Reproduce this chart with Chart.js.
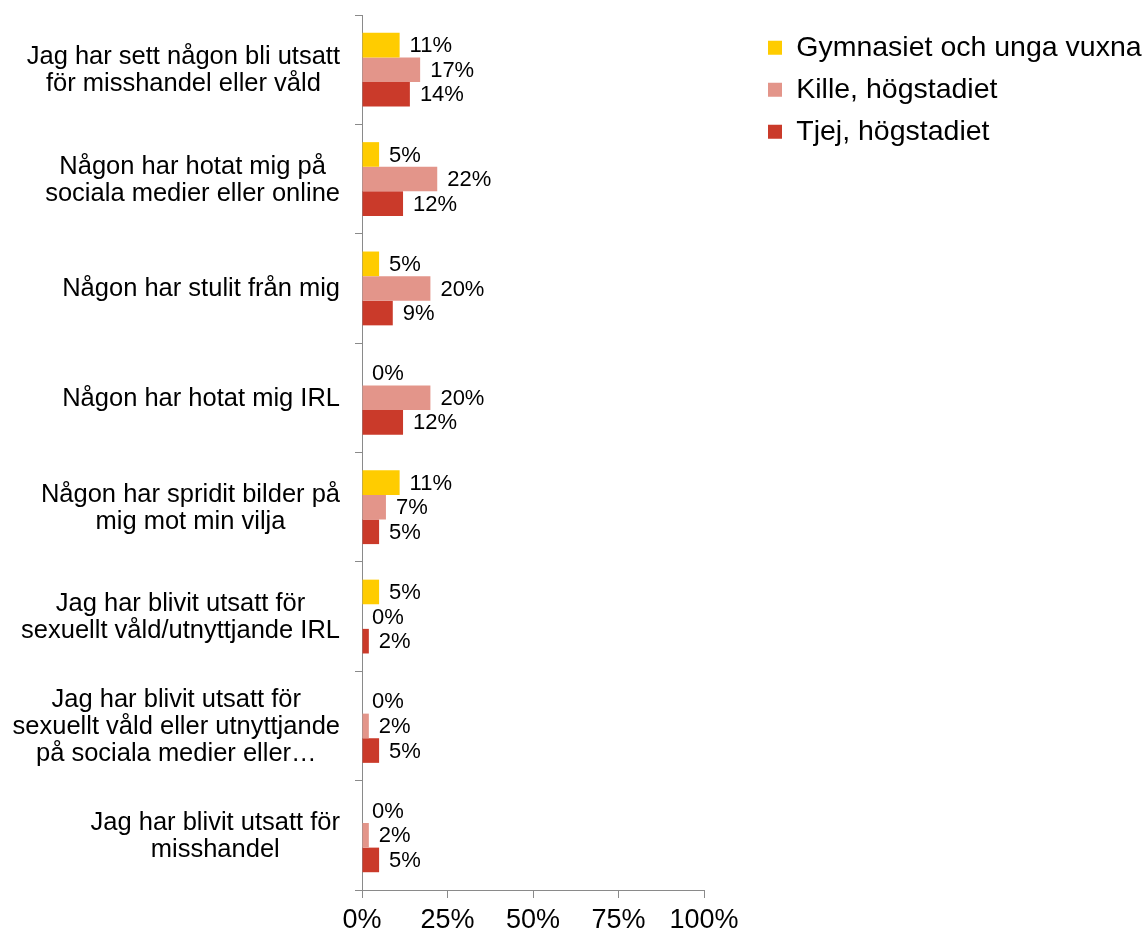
<!DOCTYPE html>
<html>
<head>
<meta charset="utf-8">
<script src="https://cdn.jsdelivr.net/npm/chart.js@4/dist/chart.umd.min.js"></script>
<style>
html,body{margin:0;padding:0;background:#fff;}
#wrap{width:1144px;height:937px;}
</style>
</head>
<body>
<div id="wrap"><canvas id="c" width="1144" height="937"></canvas></div>
<script>
// ---- data ----
const categories = [
  ['Jag har sett någon bli utsatt', 'för misshandel eller våld'],
  ['Någon har hotat mig på', 'sociala medier eller online'],
  ['Någon har stulit från mig'],
  ['Någon har hotat mig IRL'],
  ['Någon har spridit bilder på', 'mig mot min vilja'],
  ['Jag har blivit utsatt för', 'sexuellt våld/utnyttjande IRL'],
  ['Jag har blivit utsatt för', 'sexuellt våld eller utnyttjande', 'på sociala medier eller…'],
  ['Jag har blivit utsatt för', 'misshandel']
];
const seriesNames = ['Gymnasiet och unga vuxna', 'Kille, högstadiet', 'Tjej, högstadiet'];
const gymnasiet = [11, 5, 5, 0, 11, 5, 0, 0];
const kille = [17, 22, 20, 20, 7, 0, 2, 2];
const tjej = [14, 12, 9, 12, 5, 2, 5, 5];
const xTicks = [0, 25, 50, 75, 100];

const colors = ['#FFCC00', '#E3958A', '#CA3A2A'];
const FONT = '"Liberation Sans", Arial, sans-serif';
const GRAY = '#8a8a8a';

const legendPlacer = {
  id: 'legendPlacer',
  afterInit(chart) {
    const lg = chart.legend;
    const f = lg.fit;
    lg.fit = function () { f.call(this); this.width = 440; };
  },
  afterLayout(chart) {
    const lg = chart.legend;
    lg.left = 754.5; lg.right = 1144; lg.width = lg.right - lg.left;
    lg.top = 20; lg.bottom = 200; lg.height = lg.bottom - lg.top;
  }
};

const yLabels = {
  id: 'yLabels',
  afterDraw(chart) {
    const ctx = chart.ctx;
    const ys = chart.scales.y;
    const size = 25.5, lh = 27;
    ctx.save();
    ctx.font = size + 'px ' + FONT;
    ctx.fillStyle = '#000';
    ctx.textAlign = 'center';
    ctx.textBaseline = 'middle';
    categories.forEach((lines, i) => {
      const cy = ys.getPixelForTick(i) + 1;
      const w = Math.max(...lines.map(l => ctx.measureText(l).width));
      const cx = 340 - w / 2;
      lines.forEach((l, j) => {
        ctx.fillText(l, cx, cy + (j - (lines.length - 1) / 2) * lh);
      });
    });
    ctx.restore();
  }
};

const valueLabels = {
  id: 'valueLabels',
  afterDatasetsDraw(chart) {
    const ctx = chart.ctx;
    ctx.save();
    ctx.font = '22px ' + FONT;
    ctx.fillStyle = '#000';
    ctx.textAlign = 'left';
    ctx.textBaseline = 'middle';
    chart.data.datasets.forEach((ds, di) => {
      const meta = chart.getDatasetMeta(di);
      meta.data.forEach((bar, i) => {
        ctx.fillText(ds.data[i] + '%', bar.x + 10, bar.y + 1);
      });
    });
    ctx.restore();
  }
};

new Chart(document.getElementById('c'), {
  type: 'bar',
  data: {
    labels: categories,
    datasets: [
      { label: seriesNames[0], data: gymnasiet, backgroundColor: colors[0] },
      { label: seriesNames[1], data: kille, backgroundColor: colors[1] },
      { label: seriesNames[2], data: tjej, backgroundColor: colors[2] }
    ]
  },
  options: {
    indexAxis: 'y',
    responsive: false,
    animation: false,
    devicePixelRatio: 1,
    categoryPercentage: 0.675,
    barPercentage: 1.0,
    layout: { padding: { top: 15, left: 0, right: 0, bottom: 0 } },
    plugins: {
      tooltip: { enabled: false },
      legend: {
        position: 'right',
        align: 'start',
        labels: {
          boxWidth: 14,
          boxHeight: 14,
          padding: 13.5,
          color: '#000',
          font: { family: FONT, size: 28.5 }
        }
      }
    },
    scales: {
      x: {
        min: 0, max: 100,
        afterBuildTicks(s) { s.ticks = xTicks.map(v => ({ value: v })); },
        afterFit(s) { s.height = 47; },
        ticks: {
          color: '#000',
          padding: 6,
          maxRotation: 0,
          font: { family: FONT, size: 27 },
          callback: v => v + '%'
        },
        grid: { drawOnChartArea: false, drawTicks: true, tickLength: 8, color: GRAY },
        border: { display: true, color: GRAY }
      },
      y: {
        afterFit(s) { s.width = 362; },
        ticks: { display: false },
        grid: { drawOnChartArea: false, drawTicks: true, tickLength: 7, color: GRAY, offset: true },
        border: { display: true, color: GRAY }
      }
    }
  },
  plugins: [legendPlacer, yLabels, valueLabels]
});
</script>
</body>
</html>
